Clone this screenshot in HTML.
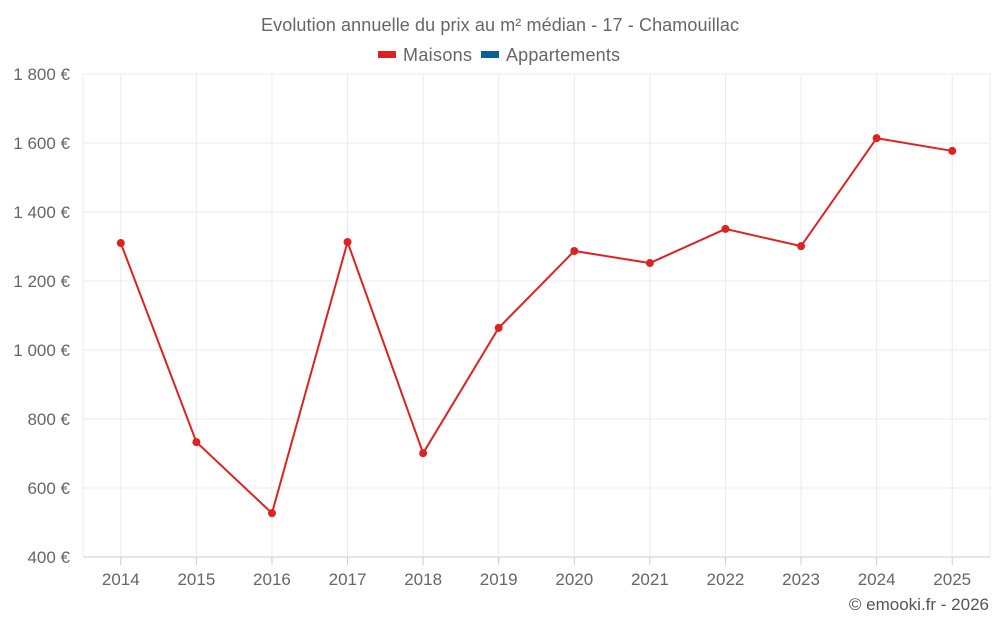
<!DOCTYPE html>
<html><head><meta charset="utf-8"><style>
body{margin:0;background:#fff;font-family:"Liberation Sans",sans-serif;}
svg text{font-family:"Liberation Sans",sans-serif;}
</style></head><body>
<svg id="chart" width="1000" height="625">
<text x="500" y="31" text-anchor="middle" font-size="18" fill="#666" textLength="478">Evolution annuelle du prix au m² médian - 17 - Chamouillac</text>
<g>
<g><rect x="378" y="51" width="18" height="7" fill="#dd2222"/><text x="403" y="61" font-size="18" fill="#666" textLength="69">Maisons</text></g>
<g><rect x="481" y="51" width="18" height="7" fill="#0a6199"/><text x="506" y="61" font-size="18" fill="#666" textLength="114">Appartements</text></g>
</g>
<g id="grid"></g>
<g id="axes"></g>
<g id="series"></g>
<text x="989" y="610" text-anchor="end" font-size="17" fill="#555">© emooki.fr - 2026</text>
</svg>
<script>
const years=[2014,2015,2016,2017,2018,2019,2020,2021,2022,2023,2024,2025];
const maisons=[1310,733,527,1313,701,1064,1287,1252,1351,1301,1614,1577];
const yTicks=[400,600,800,1000,1200,1400,1600,1800];
const yLabels=["400 €","600 €","800 €","1 000 €","1 200 €","1 400 €","1 600 €","1 800 €"];
const NS="http://www.w3.org/2000/svg";
const L=83,R=990,T=74,B=557;
const step=(R-L)/years.length;
function x(i){return L+step*(i+0.5);}
function y(v){return B-(v-400)/(1800-400)*(B-T);}
function mk(t,a,p){const e=document.createElementNS(NS,t);for(const k in a)e.setAttribute(k,a[k]);p.appendChild(e);return e;}
const g=document.getElementById('grid'),ax=document.getElementById('axes'),s=document.getElementById('series');
yTicks.forEach((v,i)=>{
 const ln=mk('line',{x1:L,x2:R,y1:y(v),y2:y(v),stroke:i==0?'#ccc':'#ebebeb'},g);
 
 
 const t=mk('text',{x:70,y:y(v)+6,'text-anchor':'end','font-size':17,fill:'#666'},ax);
 t.textContent=yLabels[i];
 
 
});
[L,R].forEach(xx=>{const ln=mk('line',{x1:xx,x2:xx,y1:T,y2:B,stroke:'#ebebeb'},g);
 
 });
years.forEach((yr,i)=>{
 const ln=mk('line',{x1:x(i),x2:x(i),y1:T,y2:B,stroke:'#ebebeb'},g);
 
 
 const tk=mk('line',{x1:x(i),x2:x(i),y1:B,y2:B+8,stroke:'#ccc'},ax);
 
 
 const t=mk('text',{x:x(i),y:585,'text-anchor':'middle','font-size':17,fill:'#666'},ax);
 t.textContent=yr;
 
 
});
const pl=mk('polyline',{points:maisons.map((v,i)=>x(i)+','+y(v)).join(' '),fill:'none',stroke:'#dd2222','stroke-width':2},s);


maisons.forEach((v,i)=>{
 const c=mk('circle',{cx:x(i),cy:y(v),r:4,fill:'#dd2222'},s);
 
 
});
</script>
</body></html>
